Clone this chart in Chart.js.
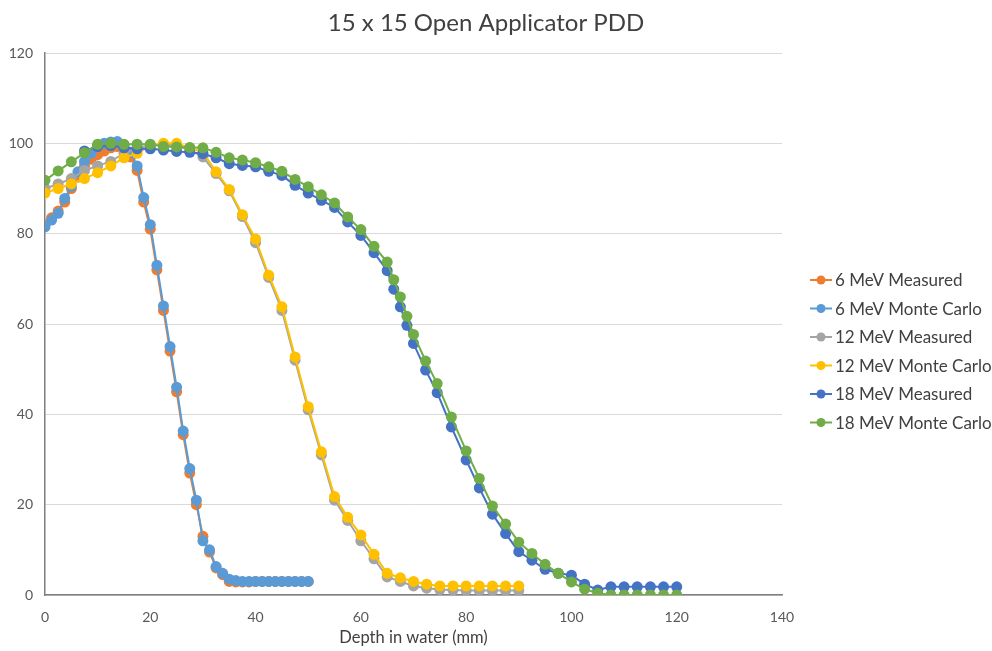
<!DOCTYPE html>
<html>
<head>
<meta charset="utf-8">
<script src="https://cdn.jsdelivr.net/npm/chart.js@4.4.1/dist/chart.umd.min.js"></script>
<style>
  html, body { margin: 0; padding: 0; background: #ffffff; }
  #wrap { width: 992px; height: 651px; position: relative; }
</style>
</head>
<body>
<div id="wrap"><canvas id="pdd"></canvas></div>
<script>
// Depth grids (mm)
const depth6 = [0, 1.25, 2.5, 3.75, 5, 6.25, 7.5, 8.75, 10, 11.25, 12.5, 13.75, 15, 16.25, 17.5, 18.75, 20, 21.25, 22.5, 23.75, 25, 26.25, 27.5, 28.75, 30, 31.25, 32.5, 33.75, 35, 36.25, 37.5, 38.75, 40, 41.25, 42.5, 43.75, 45, 46.25, 47.5, 48.75, 50];
const depth12 = [0, 2.5, 5, 7.5, 10, 12.5, 15, 17.5, 20, 22.5, 25, 27.5, 30, 32.5, 35, 37.5, 40, 42.5, 45, 47.5, 50, 52.5, 55, 57.5, 60, 62.5, 65, 67.5, 70, 72.5, 75, 77.5, 80, 82.5, 85, 87.5, 90];
const depth18mc = [0, 2.5, 5, 7.5, 10, 12.5, 15, 17.5, 20, 22.5, 25, 27.5, 30, 32.5, 35, 37.5, 40, 42.5, 45, 47.5, 50, 52.5, 55, 57.5, 60, 62.5, 65, 66.25, 67.5, 68.75, 70, 72.3, 74.5, 77.2, 80, 82.5, 85, 87.5, 90, 92.5, 95, 97.5, 100, 102.5, 105, 107.5, 110, 112.5, 115, 117.5, 120];
const depth18meas = [7.5, 10, 12.5, 15, 17.5, 20, 22.5, 25, 27.5, 30, 32.5, 35, 37.5, 40, 42.5, 45, 47.5, 50, 52.5, 55, 57.5, 60, 62.5, 65, 66.25, 67.5, 68.75, 70, 72.3, 74.5, 77.2, 80, 82.5, 85, 87.5, 90, 92.5, 95, 97.5, 100, 102.5, 105, 107.5, 110, 112.5, 115, 117.5, 120];

// Relative dose (%)
const mev6Measured = [82, 83.5, 85, 87, 90, 92.5, 95, 96.5, 97.5, 98.3, 99, 99.3, 99, 97, 94, 87, 81, 72, 63, 54, 45, 35.5, 27, 20, 13, 9.5, 6, 4.5, 3, 2.9, 2.9, 2.9, 3, 3, 3, 3, 3, 3, 3, 3, 3];
const mev6MonteCarlo = [81.5, 83, 84.5, 87.8, 90.5, 93.7, 96, 97.8, 99.3, 100, 100.3, 100.4, 99.5, 98, 95, 88, 82, 73, 64, 55, 46, 36.3, 28, 21, 12, 10, 6.3, 4.8, 3.5, 3.2, 3, 3, 3, 3, 3, 3, 3, 3, 3, 3, 3];
const mev12Measured = [90, 91, 92.2, 94, 95, 96, 97.8, 99, 99.5, 99.8, 99.5, 98.5, 97, 93.3, 89.5, 83.8, 78, 70.3, 63, 52, 41, 31, 21, 16.5, 12, 8, 4, 3, 2, 1.5, 1.2, 1.1, 1, 1, 1, 1, 1];
const mev12MonteCarlo = [89, 90, 91, 92.2, 93.5, 95, 96.8, 97.8, 99.5, 100, 100, 99, 98, 93.7, 89.8, 84.2, 78.8, 70.8, 63.8, 52.7, 41.7, 31.7, 21.8, 17.2, 13.3, 9, 4.8, 3.8, 3, 2.4, 2, 2, 2, 2, 2, 2, 2];
const mev18Measured = [98.3, 99.3, 99.5, 99, 98.8, 98.8, 98.5, 98.2, 98, 97.7, 96.8, 95.5, 95.1, 94.8, 93.8, 92.9, 90.7, 89, 87.4, 85.8, 82.6, 79.6, 75.8, 71.8, 67.7, 63.8, 59.7, 55.7, 49.8, 44.8, 37.2, 29.9, 23.7, 17.9, 13.6, 9.6, 7.7, 5.7, 4.8, 4.4, 2.4, 1.1, 1.8, 1.8, 1.8, 1.8, 1.8, 1.8];
const mev18MonteCarlo = [91.8, 93.9, 95.9, 97.9, 99.8, 100, 99.8, 99.8, 99.8, 99.3, 99.2, 99.1, 99, 98, 96.8, 96.3, 95.7, 94.8, 93.8, 92, 90.4, 88.6, 86.8, 83.7, 80.9, 77.2, 73.7, 69.8, 66, 61.7, 57.7, 51.8, 46.8, 39.4, 31.9, 25.8, 19.7, 15.7, 11.7, 9.2, 6.8, 4.8, 2.9, 1.3, 0.4, 0, 0, 0, 0, 0, 0];

const seriesNames = ['6 MeV Measured', '6 MeV Monte Carlo', '12 MeV Measured', '12 MeV Monte Carlo', '18 MeV Measured', '18 MeV Monte Carlo'];
const seriesColors = ['#ED7D31', '#5B9BD5', '#A5A5A5', '#FFC000', '#4472C4', '#70AD47'];
const xTicks = [0, 20, 40, 60, 80, 100, 120, 140];
const yTicks = [0, 20, 40, 60, 80, 100, 120];
const chartTitle = '15 x 15 Open Applicator PDD';

const seriesX = [depth6, depth6, depth12, depth12, depth18meas, depth18mc];
const seriesY = [mev6Measured, mev6MonteCarlo, mev12Measured, mev12MonteCarlo, mev18Measured, mev18MonteCarlo];

const FONT = 'Lato, "Liberation Sans", sans-serif';
const TEXT = '#595959';
const DARK_TEXT = '#404040';

const datasets = seriesNames.map((name, i) => ({
  label: name,
  data: seriesX[i].map((x, k) => ({ x: x, y: seriesY[i][k] })),
  borderColor: seriesColors[i],
  backgroundColor: seriesColors[i],
  borderWidth: 2,
  pointRadius: 5.5,
  pointBorderWidth: 0,
  pointHoverRadius: 5.5,
  showLine: true,
  tension: 0,
  // later series sit on top of earlier ones
  order: seriesNames.length - i
}));

// Title centred over the whole canvas, legend at the right
const decorations = {
  id: 'decorations',
  afterDraw(chart) {
    const ctx = chart.ctx;
    ctx.save();
    ctx.fillStyle = DARK_TEXT;
    ctx.textAlign = 'center';
    ctx.textBaseline = 'middle';
    ctx.font = '24px ' + FONT;
    ctx.fillText(chartTitle, chart.width / 2 - 10, 23);

    ctx.font = '17px ' + FONT;
    ctx.textAlign = 'left';
    seriesNames.forEach((name, i) => {
      const y = 280 + i * 28.5;
      ctx.strokeStyle = seriesColors[i];
      ctx.lineWidth = 2;
      ctx.beginPath();
      ctx.moveTo(810, y);
      ctx.lineTo(832, y);
      ctx.stroke();
      ctx.fillStyle = seriesColors[i];
      ctx.beginPath();
      ctx.arc(821, y, 4.5, 0, Math.PI * 2);
      ctx.fill();
      ctx.fillStyle = DARK_TEXT;
      ctx.fillText(name, 835, y + 1);
    });
    ctx.restore();
  }
};

new Chart(document.getElementById('pdd'), {
  type: 'scatter',
  data: { datasets: datasets },
  plugins: [decorations],
  options: {
    responsive: true,
    maintainAspectRatio: false,
    animation: false,
    events: [],
    layout: { padding: { left: 0, right: 210, top: 53, bottom: 0 } },
    plugins: {
      legend: { display: false },
      tooltip: { enabled: false },
      title: { display: false }
    },
    scales: {
      x: {
        type: 'linear',
        min: 0,
        max: 140,
        afterBuildTicks(scale) { scale.ticks = xTicks.map(v => ({ value: v })); },
        afterFit(scale) { scale.height = 56; },
        grid: { display: true, color: 'rgba(0,0,0,0)', drawTicks: false },
        border: { display: true, color: '#7F7F7F', width: 1.5 },
        ticks: { color: TEXT, font: { family: FONT, size: 14 }, padding: 14, maxRotation: 0 },
        title: {
          display: true,
          text: 'Depth in water (mm)',
          color: DARK_TEXT,
          font: { family: FONT, size: 16.5 },
          padding: { top: 0, bottom: 3 }
        }
      },
      y: {
        type: 'linear',
        min: 0,
        max: 120,
        afterBuildTicks(scale) { scale.ticks = yTicks.map(v => ({ value: v })); },
        afterFit(scale) { scale.width = 45; },
        grid: { color: '#D9D9D9', lineWidth: 1, drawTicks: false },
        border: { display: true, color: '#7F7F7F', width: 1.5 },
        ticks: { color: TEXT, font: { family: FONT, size: 14 }, padding: 12 }
      }
    }
  }
});
</script>
</body>
</html>
